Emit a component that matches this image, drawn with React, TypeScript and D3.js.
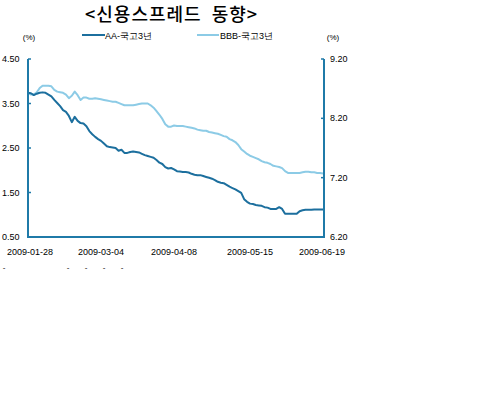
import React from "react";
import * as d3 from "d3";

const title = "<신용스프레드  동향>";
const seriesNames = ["AA-국고3년", "BBB-국고3년"];
const startDate = "2009-01-28";
const endDate = "2009-06-19";
const holidays = ["2009-05-05"];
const tickDates = ["2009-01-28", "2009-03-04", "2009-04-08", "2009-05-15", "2009-06-19"];
const leftTicks = [0.5, 1.5, 2.5, 3.5, 4.5];
const rightTicks = [6.2, 7.2, 8.2, 9.2];

const aaValues = [
  3.74, 3.73, 3.69, 3.72, 3.74, 3.75, 3.74, 3.70, 3.66, 3.58,
  3.51, 3.44, 3.35, 3.31, 3.22, 3.08, 3.20, 3.11, 3.06, 3.05,
  2.99, 2.88, 2.81, 2.75, 2.70, 2.66, 2.60, 2.54, 2.52, 2.51,
  2.50, 2.44, 2.46, 2.39, 2.39, 2.41, 2.42, 2.41, 2.40, 2.37,
  2.34, 2.32, 2.30, 2.28, 2.23, 2.17, 2.14, 2.07, 2.04, 2.05,
  2.02, 1.98, 1.97, 1.96, 1.96, 1.95, 1.92, 1.90, 1.89, 1.89,
  1.87, 1.85, 1.83, 1.81, 1.78, 1.74, 1.72, 1.71, 1.67, 1.63,
  1.60, 1.57, 1.53, 1.49, 1.35, 1.29, 1.25, 1.24, 1.22, 1.21,
  1.20, 1.17, 1.16, 1.13, 1.13, 1.13, 1.17, 1.13, 1.02, 1.02,
  1.02, 1.02, 1.02, 1.08, 1.10, 1.11, 1.11, 1.11, 1.12, 1.12,
  1.12, 1.12,
];

const bbbValues = [
  8.63, 8.60, 8.60, 8.64, 8.71, 8.75, 8.75, 8.75, 8.74, 8.68,
  8.65, 8.64, 8.63, 8.60, 8.54, 8.58, 8.65, 8.59, 8.51, 8.55,
  8.55, 8.53, 8.53, 8.54, 8.53, 8.52, 8.51, 8.50, 8.49, 8.48,
  8.48, 8.46, 8.44, 8.42, 8.42, 8.42, 8.42, 8.43, 8.44, 8.45,
  8.45, 8.45, 8.42, 8.38, 8.32, 8.26, 8.19, 8.10, 8.06, 8.06,
  8.08, 8.07, 8.07, 8.07, 8.06, 8.05, 8.04, 8.03, 8.01, 8.00,
  7.99, 7.99, 7.97, 7.96, 7.95, 7.94, 7.92, 7.90, 7.89, 7.85,
  7.83, 7.80, 7.75, 7.68, 7.64, 7.60, 7.57, 7.55, 7.53, 7.51,
  7.48, 7.46, 7.45, 7.43, 7.40, 7.39, 7.38, 7.36, 7.31, 7.28,
  7.28, 7.28, 7.28, 7.28, 7.29, 7.30, 7.30, 7.29, 7.29, 7.28,
  7.28, 7.27,
];

const footDashX = [4, 68, 86, 104, 122];

const fmt = d3.timeFormat("%Y-%m-%d");
const parse = d3.timeParse("%Y-%m-%d");
const dates: string[] = d3
  .timeDay.range(parse(startDate)!, d3.timeDay.offset(parse(endDate)!, 1))
  .filter((d) => d.getDay() !== 0 && d.getDay() !== 6)
  .map(fmt)
  .filter((s) => !holidays.includes(s));

const AXIS = "#1f7aa8";
const AA_COLOR = "#1c6f9e";
const BBB_COLOR = "#8ccbe6";
const FONT = "'Liberation Sans', Arial, sans-serif";
const KFONT = "'Noto Sans CJK KR', sans-serif";

export default function App() {
  const left = 28, right = 323, top = 59, bottom = 237;
  const x = d3.scalePoint<string>().domain(dates).range([left, right]);
  const yL = d3.scaleLinear().domain([0.5, 4.5]).range([bottom, top]);
  const yR = d3.scaleLinear().domain([6.2, 9.2]).range([bottom, top]);
  const n = Math.min(dates.length, aaValues.length);
  const idx = d3.range(n);
  const lineAA = d3.line<number>().x((i) => x(dates[i])!).y((i) => yL(aaValues[i]));
  const lineBBB = d3.line<number>().x((i) => x(dates[i])!).y((i) => yR(bbbValues[i]));

  return (
    <svg
      width={503}
      height={394}
      style={{ position: "absolute", left: 0, top: 0, background: "#fff" }}
      fontFamily={FONT}
    >
      <text x={85} y={21} xmlSpace="preserve" style={{ whiteSpace: "pre" }} letterSpacing={1} fontSize={18} fontFamily={KFONT} fontWeight={500} fill="#000">
        {title}
      </text>
      {/* legend */}
      <line x1={82} x2={105} y1={35} y2={35} stroke={AA_COLOR} strokeWidth={2} />
      <text x={105} y={38.5} fontSize={9} fill="#000">{seriesNames[0]}</text>
      <line x1={197} x2={219} y1={35} y2={35} stroke={BBB_COLOR} strokeWidth={2} />
      <text x={220} y={38.5} fontSize={9} fill="#000">{seriesNames[1]}</text>
      <text x={29} y={40} textAnchor="middle" fontSize={8} fill="#000">(%)</text>
      <text x={333} y={40} textAnchor="middle" fontSize={8} fill="#000">(%)</text>

      {/* series */}
      <path d={lineBBB(idx) || ""} fill="none" stroke={BBB_COLOR} strokeWidth={2} strokeLinejoin="round" />
      <path d={lineAA(idx) || ""} fill="none" stroke={AA_COLOR} strokeWidth={2} strokeLinejoin="round" />

      {/* axes */}
      <line x1={left} x2={left} y1={top} y2={bottom} stroke={AXIS} strokeWidth={2} />
      <line x1={right + 1} x2={right + 1} y1={top} y2={bottom} stroke={AXIS} strokeWidth={2} />
      <line x1={left - 1} x2={right + 2} y1={bottom} y2={bottom} stroke={AXIS} strokeWidth={2} />
      {leftTicks.map((t) => (
        <g key={"l" + t}>
          <line x1={left} x2={left + 3} y1={yL(t)} y2={yL(t)} stroke={AXIS} strokeWidth={1.5} />
          <text x={2} y={yL(t) + 3} fontSize={9} fill="#000">{t.toFixed(2)}</text>
        </g>
      ))}
      {rightTicks.map((t) => (
        <g key={"r" + t}>
          <line x1={right - 2} x2={right + 1} y1={yR(t)} y2={yR(t)} stroke={AXIS} strokeWidth={1.5} />
          <text x={330} y={yR(t) + 3} fontSize={9} fill="#000">{t.toFixed(2)}</text>
        </g>
      ))}
      {tickDates.map((d, i) => (
        <text
          key={d}
          x={i === 0 ? x(d)! + 2 : i === tickDates.length - 1 ? x(d)! - 1 : x(d)!}
          y={255}
          textAnchor="middle"
          fontSize={9}
          fill="#000"
        >
          {d}
        </text>
      ))}
      {footDashX.map((dx, i) => (
        <text key={"f" + i} x={dx} y={270} fontSize={8} fill="#000" textAnchor="middle">-</text>
      ))}
    </svg>
  );
}
